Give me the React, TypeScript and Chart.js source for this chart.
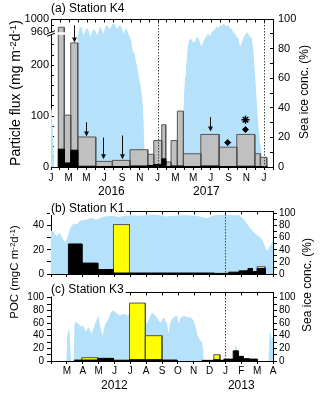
import React, { useEffect, useRef } from 'react';
import { Chart, registerables } from 'chart.js';

Chart.register(...registerables);

const FONT = '"Liberation Sans", Arial, Helvetica, sans-serif';
const BLUE = '#b5e1fa';
const GRAY = '#c0c0c0';
const YELLOW = '#ffff00';
const BLACK = '#000000';
const EDGE = '#555555';

const monthLetters = ['J', 'F', 'M', 'A', 'M', 'J', 'J', 'A', 'S', 'O', 'N', 'D'];
const iceTicks = [0, 10, 20, 30, 40, 50, 60, 70, 80, 90, 100];

// ---------- (a) Station K4 : x = months since 1 Jan 2016 ----------
const k4BinStart = [0.82, 1.5, 2.22, 3.01, 5.04, 6.91, 8.9, 10.9, 11.57, 12.47, 12.92, 13.52, 14.23, 14.91, 16.87, 18.93, 20.92, 22.95, 23.58];
const k4BinEnd = [1.5, 2.22, 3.01, 5.04, 6.91, 8.9, 10.9, 11.57, 12.47, 12.92, 13.52, 14.23, 14.91, 16.87, 18.93, 20.92, 22.95, 23.58, 24.3];
const k4TotalFlux = [975, 102, 244, 59, 11, 13, 34, 25, 52, 83, 10, 52, 110, 26, 64, 39, 64, 26, 19];
const k4BlackFlux = [35, 8, 33, 1.5, 1, 1, 2, 3, 5, 16, 1, 2, 2, 1, 2, 1, 1.5, 1, 1];

const k4IceMonths = [
  0, 0.1, 0.2, 0.3, 0.38, 2.92, 3.0, 3.08, 3.25, 3.46,
  3.65, 3.83, 4.0, 4.2, 4.4, 4.58, 4.75, 4.96, 5.15, 5.33,
  5.5, 5.71, 5.9, 6.08, 6.25, 6.46, 6.65, 6.84, 7.0, 7.21,
  7.4, 7.59, 7.8, 7.96, 8.15, 8.34, 8.5, 8.71, 8.85, 9.01,
  9.15, 9.28, 9.4, 9.54, 9.7, 9.84, 9.97, 10.1, 10.2, 10.33,
  10.42, 10.5, 10.59,
  14.85, 14.91, 15.0, 15.1, 15.2, 15.29, 15.38, 15.47, 15.65, 15.85,
  16.05, 16.23, 16.4, 16.6, 16.8, 16.98, 17.15, 17.35, 17.55, 17.73,
  17.9, 18.1, 18.3, 18.48, 18.65, 18.85, 19.05, 19.23, 19.4, 19.6,
  19.8, 19.98, 20.15, 20.36, 20.55, 20.73, 20.9, 21.1, 21.3, 21.48,
  21.65, 21.86, 22.05, 22.23, 22.4, 22.61, 22.8, 22.99, 23.18, 23.36,
  23.5, 23.66, 23.75, 23.81, 25,
];
const k4IceConc = [
  40, 38, 22, 8, 0, 0, 88, 90, 95, 93.7,
  89, 91.4, 94, 92.5, 88, 90, 93, 92.5, 89, 91.4,
  95, 92.5, 90, 93.7, 96, 94.8, 93, 96, 97, 96.5,
  93, 94.8, 96, 93.7, 90, 92.5, 94, 90, 88, 85.8,
  80, 76.8, 78, 72, 68, 63, 58, 54, 50, 42,
  30, 16, 0,
  0, 38, 50, 61, 68, 72, 80, 83.5, 87, 86,
  84, 85, 88, 87, 84, 81, 85, 87, 89, 90,
  88, 91, 92, 93, 95, 94, 96, 95, 97, 96,
  95, 96, 94, 93, 91, 90, 88, 87, 81, 84,
  87, 89, 91, 90, 88, 87, 78, 61, 43, 27,
  18, 12, 5, 0, 0,
];

const k4ArrowMonths = [2.59, 3.94, 5.9, 8.0, 17.9];
const k4ArrowFrom = [981, 88, 58, 62, 98];
const k4ArrowTo = [245, 60, 15, 15, 70];
const k4DiamondMonths = [19.9, 21.9];
const k4DiamondFlux = [48, 73.6];
const k4StarMonths = [21.9];
const k4StarFlux = [93];

const k4LeftTicks = [0, 20, 40, 60, 80, 100, 120, 140, 160, 180, 200, 220, 240, 960, 980, 1000];
const k4LeftLabels = [0, 100, 200, 960, 1000];
const k4YearLabels = ['2016', '2017'];
const k4YearLabelMonths = [6.8, 17.5];
const k4YearBoundaries = [12, 24];

// broken axis: 0-260 linear, gap, 960-1000 compressed
const BREAK_LOW = 260;
const BREAK_HIGH = 960;
const BREAK_GAP = 5;
const UPPER_SCALE = 0.65;
const fwd = (v: number) =>
  v <= BREAK_LOW ? v : v < BREAK_HIGH ? BREAK_LOW : BREAK_LOW + BREAK_GAP + (v - BREAK_HIGH) * UPPER_SCALE;

// ---------- (b) Station K1 : x = months since 1 Feb 2012 ----------
const k1BlackStart = [1.1, 1.95, 2.95, 3.94, 4.95, 10.3, 11.2, 11.85, 12.42, 12.7, 13.0];
const k1BlackEnd = [1.95, 2.95, 3.94, 4.95, 10.3, 11.2, 11.85, 12.42, 12.7, 13.0, 13.5];
const k1BlackPOC = [24.8, 9.0, 3.7, 0.8, 0.8, 0.5, 1.5, 2.6, 4.5, 2.0, 4.5];
const k1YellowStart = [3.94, 13.0];
const k1YellowEnd = [4.95, 13.5];
const k1YellowPOC = [40.8, 6.0];

const k1IceMonths = [
  0, 0.15, 0.36, 0.5, 0.57, 0.78, 0.93, 1.05, 1.2, 1.41,
  1.62, 1.83, 2.15, 2.35, 2.57, 2.8, 2.99, 3.2, 3.42, 3.84,
  4.26, 4.68, 5.1, 5.5, 5.95, 6.4, 6.9, 7.3, 7.74, 8.1,
  8.58, 9.0, 9.42, 9.85, 10.27, 10.7, 11.11, 11.5, 11.85, 12.06,
  12.27, 12.48, 12.69, 12.9, 13.11, 13.33, 13.54, 13.64, 13.81, 14.0,
];
const k1IceConc = [
  72, 70, 62, 68, 67, 56, 53, 62, 75, 83,
  82, 88, 89, 91, 93, 90, 91, 94, 95, 96,
  94, 96, 97, 96, 97, 98, 97, 95, 96, 97,
  97, 96, 95, 92, 97, 98, 98, 97, 97, 93,
  87, 78, 72, 66, 62, 56, 43, 38, 46, 55,
];
const k1LeftTicks = [0, 10, 20, 30, 40, 50];

// ---------- (c) Station K3 ----------
const k3BlackStart = [1.47, 1.94, 2.95, 3.94, 4.95, 5.95, 7.0, 9.53, 10.27, 10.65, 10.9, 11.49, 11.81, 12.12, 12.48];
const k3BlackEnd = [1.94, 2.95, 3.94, 4.95, 5.95, 7.0, 7.95, 10.27, 10.65, 10.9, 11.49, 11.81, 12.12, 12.48, 13.01];
const k3BlackPOC = [1.4, 1.5, 3.8, 1.2, 2.0, 2.0, 1.5, 1.0, 2.0, 1.0, 3.0, 16.0, 7.4, 3.7, 3.0];
const k3YellowStart = [1.94, 2.95, 4.95, 5.95, 10.27];
const k3YellowEnd = [2.95, 3.94, 5.95, 7.0, 10.65];
const k3YellowPOC = [5.3, 4.3, 91.5, 40, 10];

const k3IceMonths = [
  0, 0.97, 1.03, 1.1, 1.18, 1.24, 1.29, 1.43, 1.48, 1.56,
  1.73, 1.9, 2.05, 2.19, 2.36, 2.57, 2.78, 2.99, 3.1, 3.25,
  3.42, 3.58, 3.73, 3.94, 4.15, 4.36, 4.57, 4.79, 5.1, 5.73,
  6.05, 6.37, 6.58, 6.9, 7.1, 7.32, 7.42, 7.53, 7.74, 7.95,
  8.05, 8.16, 8.37, 8.58, 8.79, 9.0, 9.11, 9.21, 9.38, 9.53,
  9.59, 9.63, 11.55, 11.62, 11.7, 11.78, 13.72, 13.78, 13.85, 13.92,
  14.0,
];
const k3IceConc = [
  0, 0, 40, 50, 45, 10, 0, 0, 59, 62,
  59, 54, 56, 46, 54, 43, 59, 72, 54, 40,
  59, 64, 75, 80, 75, 72, 75, 72, 75, 70,
  59, 77, 72, 60, 69, 59, 43, 62, 69, 72,
  59, 67, 72, 69, 69, 64, 54, 43, 33, 30,
  17, 0, 0, 25, 22, 0, 0, 40, 46, 33,
  40,
];
const k3LeftTicks = [0, 10, 20, 30, 40, 50, 60, 70, 80, 90, 100];

const bcYearLabels = ['2012', '2013'];
const bcYearLabelMonths = [4.0, 12.0];
const bcYearBoundaries = [11];

// ---------- helpers ----------
type Pt = { x: number; y: number | null };

function barOutline(starts: number[], ends: number[], values: number[], tf: (v: number) => number = (v) => v): Pt[] {
  const pts: Pt[] = [];
  starts.forEach((s, i) => {
    const e = ends[i];
    const v = tf(values[i]);
    pts.push({ x: s, y: 0 }, { x: s, y: v }, { x: e, y: v }, { x: e, y: 0 }, { x: e, y: null });
  });
  return pts;
}

function series(xs: number[], ys: number[]): Pt[] {
  return xs.map((x, i) => ({ x, y: ys[i] }));
}

function areaDataset(data: Pt[], color: string, yAxisID: string, order: number) {
  return {
    data, yAxisID, order, fill: 'origin', backgroundColor: color,
    borderColor: 'rgba(0,0,0,0)', borderWidth: 0, pointRadius: 0, pointHoverRadius: 0,
    tension: 0, spanGaps: false,
  };
}

function barDataset(data: Pt[], fillColor: string, edge: string, order: number) {
  return {
    data, yAxisID: 'y', order, fill: 'origin', backgroundColor: fillColor,
    borderColor: edge, borderWidth: 1, pointRadius: 0, pointHoverRadius: 0,
    tension: 0, spanGaps: false, borderJoinStyle: 'miter',
  };
}

const font = (size: number) => ({ family: FONT, size });

function monthAxis(max: number, height: number, labelFn: (v: number) => string, showLabels: boolean, padding: number) {
  return {
    type: 'linear', min: 0, max, z: 1,
    afterBuildTicks: (s: any) => {
      const t: any[] = [];
      for (let v = 0; v <= max; v++) t.push({ value: v });
      s.ticks = t;
    },
    afterFit: (s: any) => { s.height = height; },
    ticks: {
      display: showLabels, autoSkip: false, maxRotation: 0, minRotation: 0, padding,
      color: '#000', font: font(10), callback: (v: any) => labelFn(Number(v)),
    },
    grid: { drawOnChartArea: false, drawTicks: true, tickLength: 3, color: '#000', lineWidth: 1 },
    border: { display: true, color: '#000', width: 1 },
  };
}

function valueAxis(position: string, max: number, tickVals: number[], labelFn: (i: number) => string,
  width: number, inside: boolean, padding: number, size: number) {
  return {
    type: 'linear', position, min: 0, max, z: 1,
    afterBuildTicks: (s: any) => { s.ticks = tickVals.map((v) => ({ value: v })); },
    afterFit: (s: any) => { s.width = width; },
    ticks: { autoSkip: false, padding, color: '#000', font: font(size), callback: (_v: any, i: number) => labelFn(i) },
    grid: { drawOnChartArea: false, drawTicks: true, tickLength: inside ? -3 : 4, color: '#000', lineWidth: 1 },
    border: { display: true, color: '#000', width: 1 },
  };
}

type DecorCfg = {
  title: string; titleY: number; titleBg: boolean;
  years: string[]; yearMonths: number[]; yearY: number; boundaries: number[];
  extra?: (chart: any) => void;
};

function decor(cfg: DecorCfg) {
  return {
    id: 'decor',
    afterDraw(chart: any) {
      const { ctx, chartArea: ca, scales } = chart;
      const x = scales.x;
      ctx.save();
      ctx.lineWidth = 1;
      // year boundaries (dotted)
      ctx.strokeStyle = '#444';
      ctx.setLineDash([1.5, 1.5]);
      cfg.boundaries.forEach((m) => {
        const px = Math.round(x.getPixelForValue(m)) + 0.5;
        ctx.beginPath(); ctx.moveTo(px, ca.top); ctx.lineTo(px, ca.bottom); ctx.stroke();
      });
      ctx.setLineDash([]);
      // top frame and inward ticks
      ctx.strokeStyle = '#000';
      const ty = Math.round(ca.top) + 0.5;
      ctx.beginPath(); ctx.moveTo(ca.left, ty); ctx.lineTo(ca.right, ty); ctx.stroke();
      x.ticks.forEach((t: any) => {
        const px = Math.round(x.getPixelForValue(t.value)) + 0.5;
        ctx.beginPath(); ctx.moveTo(px, ty); ctx.lineTo(px, ty + 3); ctx.stroke();
      });
      if (cfg.extra) cfg.extra(chart);
      // title
      ctx.font = `12px ${FONT}`;
      ctx.textBaseline = 'middle';
      ctx.textAlign = 'left';
      if (cfg.titleBg) {
        const w = ctx.measureText(cfg.title).width;
        ctx.fillStyle = '#fff';
        ctx.fillRect(ca.left - 1, cfg.titleY - 6.5, w + 3, 13);
      }
      ctx.fillStyle = '#000';
      ctx.fillText(cfg.title, ca.left, cfg.titleY);
      // year labels
      ctx.textAlign = 'center';
      cfg.years.forEach((s, i) => ctx.fillText(s, x.getPixelForValue(cfg.yearMonths[i]), cfg.yearY));
      ctx.restore();
    },
  };
}

function extraK4(chart: any) {
  const { ctx, chartArea: ca, scales } = chart;
  const x = scales.x;
  const y = scales.y;
  const yHi = y.getPixelForValue(BREAK_LOW + BREAK_GAP);
  const yLo = y.getPixelForValue(BREAK_LOW);
  ctx.fillStyle = '#fff';
  k4TotalFlux.forEach((v, i) => {
    if (v > BREAK_LOW) {
      const x0 = x.getPixelForValue(k4BinStart[i]) - 1;
      const x1 = x.getPixelForValue(k4BinEnd[i]) + 1;
      ctx.fillRect(x0, yHi, x1 - x0, yLo - yHi);
    }
  });
  const ax = ca.left;
  ctx.fillRect(ax - 4, yHi, 8, yLo - yHi);
  ctx.strokeStyle = '#000';
  ctx.lineWidth = 1;
  [yHi, yLo].forEach((yy) => {
    ctx.beginPath(); ctx.moveTo(ax - 4, yy + 1.5); ctx.lineTo(ax + 4, yy - 1.5); ctx.stroke();
  });
  // arrows
  ctx.strokeStyle = '#111';
  ctx.fillStyle = '#111';
  k4ArrowMonths.forEach((m, i) => {
    const px = Math.round(x.getPixelForValue(m)) + 0.5;
    const y0 = y.getPixelForValue(fwd(k4ArrowFrom[i]));
    const y1 = y.getPixelForValue(fwd(k4ArrowTo[i]));
    ctx.beginPath(); ctx.moveTo(px, y0); ctx.lineTo(px, y1 - 4); ctx.stroke();
    ctx.beginPath(); ctx.moveTo(px - 2.5, y1 - 5); ctx.lineTo(px + 2.5, y1 - 5); ctx.lineTo(px, y1); ctx.closePath(); ctx.fill();
  });
}

const commonOptions = (padTop: number) => ({
  animation: false, responsive: false, events: [],
  layout: { padding: { top: padTop, left: 0, right: 0, bottom: 0 } },
  plugins: { legend: { display: false }, tooltip: { enabled: false }, title: { display: false } },
});

function configA(): any {
  return {
    type: 'line',
    data: {
      datasets: [
        areaDataset(series(k4IceMonths, k4IceConc), BLUE, 'y2', 10),
        barDataset(barOutline(k4BinStart, k4BinEnd, k4TotalFlux, fwd), GRAY, EDGE, 6),
        barDataset(barOutline(k4BinStart, k4BinEnd, k4BlackFlux, fwd), BLACK, BLACK, 4),
        {
          data: series(k4DiamondMonths, k4DiamondFlux.map(fwd)), yAxisID: 'y', order: 1, showLine: false,
          pointStyle: 'rectRot', pointRadius: 3, backgroundColor: '#000', borderColor: '#000', borderWidth: 1,
        },
        {
          data: series(k4StarMonths, k4StarFlux.map(fwd)), yAxisID: 'y', order: 1, showLine: false,
          pointStyle: 'star', pointRadius: 4, backgroundColor: '#000', borderColor: '#000', borderWidth: 1.4,
        },
      ],
    },
    options: {
      ...commonOptions(19),
      scales: {
        x: monthAxis(25, 33, (v) => (v % 2 === 0 ? monthLetters[v % 12] : ''), true, 2),
        y: valueAxis('left', fwd(1000), k4LeftTicks.map(fwd),
          (i) => (k4LeftLabels.includes(k4LeftTicks[i]) ? String(k4LeftTicks[i]) : ''), 51, true, 5, 11),
        y2: valueAxis('right', 100, iceTicks, (i) => (iceTicks[i] % 20 === 0 ? String(iceTicks[i]) : ''), 47, true, 8, 11),
      },
    },
    plugins: [decor({
      title: '(a) Station K4', titleY: 8.5, titleBg: false,
      years: k4YearLabels, yearMonths: k4YearLabelMonths, yearY: 192, boundaries: k4YearBoundaries,
      extra: extraK4,
    })],
  };
}

function configBC(which: 'b' | 'c'): any {
  const isB = which === 'b';
  const ice = isB ? series(k1IceMonths, k1IceConc) : series(k3IceMonths, k3IceConc);
  const yellow = isB ? barOutline(k1YellowStart, k1YellowEnd, k1YellowPOC) : barOutline(k3YellowStart, k3YellowEnd, k3YellowPOC);
  const black = isB ? barOutline(k1BlackStart, k1BlackEnd, k1BlackPOC) : barOutline(k3BlackStart, k3BlackEnd, k3BlackPOC);
  const leftTicks = isB ? k1LeftTicks : k3LeftTicks;
  const leftMax = isB ? 52 : 109;
  const rightMax = isB ? 104 : 109;
  return {
    type: 'line',
    data: {
      datasets: [
        areaDataset(ice, BLUE, 'y2', 10),
        barDataset(yellow, YELLOW, EDGE, 6),
        barDataset(black, BLACK, BLACK, 4),
      ],
    },
    options: {
      ...commonOptions(isB ? 11 : 9),
      scales: {
        x: monthAxis(14, isB ? 6 : 34, (v) => (v >= 1 ? monthLetters[(v + 1) % 12] : ''), !isB, 1),
        y: valueAxis('left', leftMax, leftTicks, (i) => (leftTicks[i] % 20 === 0 ? String(leftTicks[i]) : ''), 51, false, 3, 10),
        y2: valueAxis('right', rightMax, iceTicks, (i) => (iceTicks[i] % 20 === 0 ? String(iceTicks[i]) : ''), 47, false, 2, 10),
      },
    },
    plugins: [decor({
      title: isB ? '(b) Station K1' : '(c) Station K3', titleY: isB ? 8.5 : 7, titleBg: true,
      years: isB ? [] : bcYearLabels, yearMonths: bcYearLabelMonths, yearY: 102.5, boundaries: bcYearBoundaries,
    })],
  };
}

const supStyle: React.CSSProperties = { fontSize: '0.7em', verticalAlign: '0.45em', lineHeight: 0 };

function rotLabel(cx: number, cy: number, size: number): React.CSSProperties {
  return {
    position: 'absolute', left: cx, top: cy, transform: 'translate(-50%, -50%) rotate(-90deg)',
    whiteSpace: 'nowrap', fontSize: size, lineHeight: 1, color: '#000', fontFamily: FONT,
  };
}

export default function App() {
  const aRef = useRef<HTMLCanvasElement>(null);
  const bRef = useRef<HTMLCanvasElement>(null);
  const cRef = useRef<HTMLCanvasElement>(null);

  useEffect(() => {
    const charts: Chart[] = [];
    if (aRef.current) charts.push(new Chart(aRef.current, configA()));
    if (bRef.current) charts.push(new Chart(bRef.current, configBC('b')));
    if (cRef.current) charts.push(new Chart(cRef.current, configBC('c')));
    return () => charts.forEach((c) => c.destroy());
  }, []);

  return (
    <div style={{ position: 'fixed', left: 0, top: 0, width: 320, height: 395, background: '#fff', overflow: 'hidden' }}>
      <canvas ref={aRef} width={320} height={200} style={{ position: 'absolute', left: 0, top: 0 }} />
      <canvas ref={bRef} width={320} height={83} style={{ position: 'absolute', left: 0, top: 200 }} />
      <canvas ref={cRef} width={320} height={112} style={{ position: 'absolute', left: 0, top: 283 }} />
      <div style={rotLabel(15, 93, 14)}>
        Particle flux (mg m<span style={supStyle}>-2</span>d<span style={supStyle}>-1</span>)
      </div>
      <div style={rotLabel(304, 91.5, 12)}>Sea ice conc. (%)</div>
      <div style={rotLabel(14.5, 271.5, 11.5)}>
        POC (mgC m<span style={supStyle}>-2</span>d<span style={supStyle}>-1</span>)
      </div>
      <div style={rotLabel(307, 285, 12)}>Sea ice conc. (%)</div>
    </div>
  );
}
